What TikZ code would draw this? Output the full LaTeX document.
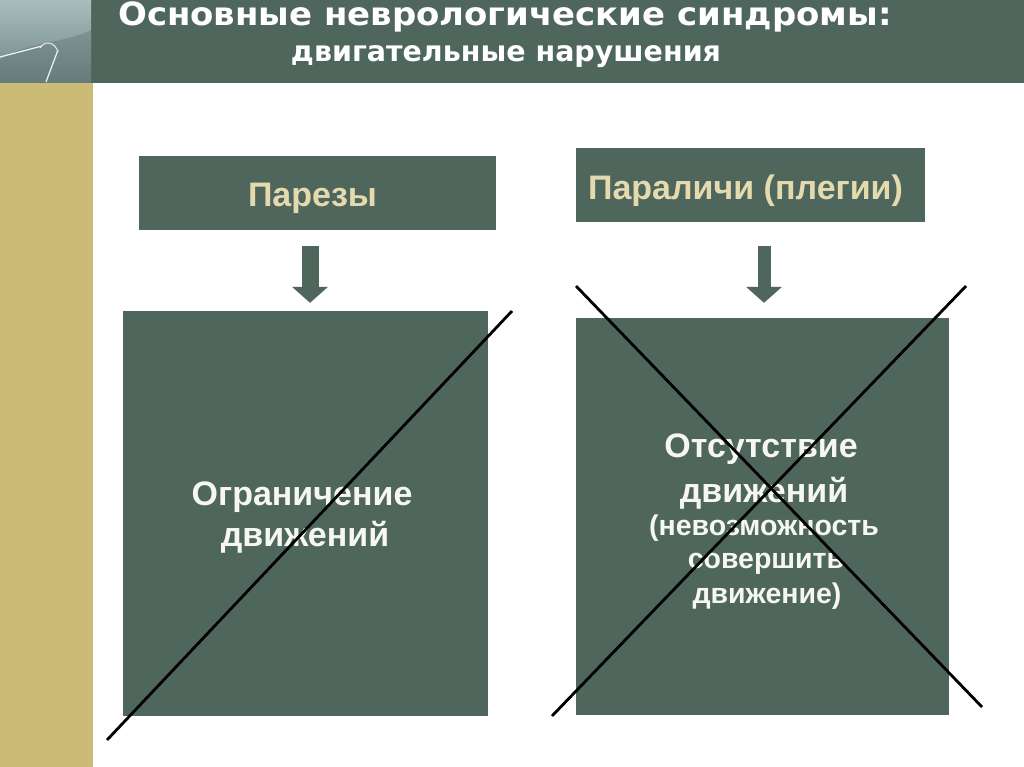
\documentclass[tikz,border=0pt]{standalone}
\usepackage{fontspec}
\setmainfont{Liberation Sans}
\newfontfamily\titlefont{DejaVu Sans}
\usetikzlibrary{arrows.meta}
\definecolor{dkgreen}{HTML}{4F665D}
\definecolor{goldbar}{HTML}{CBBB76}
\definecolor{tantext}{HTML}{E4DAAE}
\definecolor{boxtext}{HTML}{F6F6F2}
\definecolor{photolight}{HTML}{A9BDBE}
\definecolor{photodark}{HTML}{6E8585}
\tikzset{
  headbox/.style={fill=dkgreen, inner sep=0pt},
  headtext/.style={anchor=base, inner sep=0pt, text=tantext, font=\bfseries\fontsize{34}{40}\selectfont},
  bigbox/.style={fill=dkgreen, inner sep=0pt},
  bigtext/.style={anchor=base, inner sep=0pt, text=boxtext, font=\bfseries\fontsize{34}{40}\selectfont},
  smalltext/.style={anchor=base, inner sep=0pt, text=boxtext, font=\bfseries\fontsize{28.5}{34}\selectfont},
  blockarrow/.style={draw=dkgreen, line width=17pt, -{Triangle[width=36pt,length=16pt,line width=0pt]}},
  crossline/.style={draw=black, line width=2.8pt}
}
\begin{document}
\begin{tikzpicture}[x=1pt,y=-1pt]
\useasboundingbox (0,0) rectangle (1024,767);
\fill[white] (0,0) rectangle (1024,767);
% header bar and side bar
\fill[dkgreen] (91,0) rectangle (1024,83);
\fill[goldbar] (0,83) rectangle (93,767);
% photo in the corner
\shade[top color=photolight, bottom color=photodark] (0,0) rectangle (91,83);
\fill[photodark!80!black, opacity=0.35] (0,60) .. controls (30,40) and (60,45) .. (91,30) -- (91,83) -- (0,83) -- cycle;
\draw[white!85!photolight, line width=1.2pt] (0,57) -- (42,46);
\draw[white!85!photolight, line width=1.2pt] (46,82) -- (58,50);
\draw[white!70!photolight, line width=1pt] (40,48) .. controls (45,40) and (55,42) .. (58,52);
% title
\node[text=white, anchor=base, inner sep=0pt, xscale=1.06] (title) at (505,26) {\titlefont\bfseries\fontsize{32}{38}\selectfont Основные неврологические синдромы:};
\node[text=white, anchor=base, inner sep=0pt] (subtitle) at (506,62) {\titlefont\bfseries\fontsize{28.5}{34}\selectfont двигательные нарушения};
% heading boxes
\node[headbox, minimum width=357pt, minimum height=74pt] (parezy) at (317.5,193) {};
\node[headtext] (parezyt) at (312.5,207) {Парезы};
\node[headbox, minimum width=349pt, minimum height=74pt] (paralichi) at (750.5,185) {};
\node[headtext] (paralichit) at (745.5,200) {Параличи (плегии)};
% big boxes
\node[bigbox, minimum width=365pt, minimum height=405pt] (ogr) at (305.5,513.5) {};
\node[bigtext] (ogr1) at (302,505) {Ограничение};
\node[bigtext] (ogr2) at (305,546) {движений};
\node[bigbox, minimum width=373pt, minimum height=397pt] (otsut) at (762.5,516.5) {};
\node[bigtext] (ots1) at (761,457) {Отсутствие};
\node[bigtext] (ots2) at (764,502) {движений};
\node[smalltext] (ots3) at (764,535) {(невозможность};
\node[smalltext] (ots4) at (766,568) {совершить};
\node[smalltext] (ots5) at (767,603) {движение)};
% arrows
\coordinate (ax1) at (310,0);
\coordinate (ax2) at (764,0);
\draw[blockarrow, shorten <=16pt, shorten >=8pt] (parezy.south -| ax1) -- (ogr.north -| ax1);
\draw[blockarrow, line width=13pt, shorten <=24pt, shorten >=15pt] (paralichi.south -| ax2) -- (otsut.north -| ax2);
% crossing lines
\coordinate (c1a) at (107,740);
\coordinate (c1b) at (512,311);
\coordinate (c2a) at (576,286);
\coordinate (c2b) at (982,707);
\coordinate (c3a) at (966,286);
\coordinate (c3b) at (552,716);
\draw[crossline] (c1a) -- (c1b);
\draw[crossline] (c2a) -- (c2b);
\draw[crossline] (c3a) -- (c3b);
\end{tikzpicture}
\end{document}
